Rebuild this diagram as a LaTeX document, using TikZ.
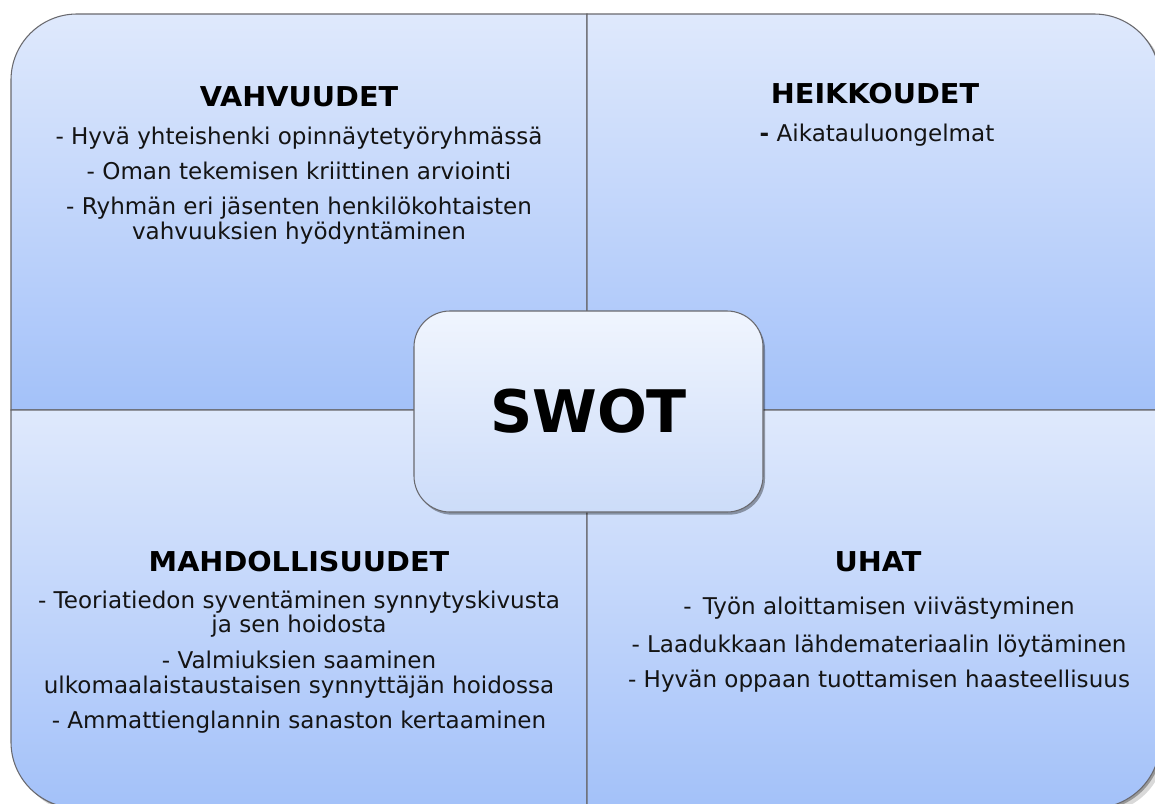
\documentclass[tikz,border=0pt]{standalone}
\usepackage{fontspec}
\setmainfont{DejaVu Sans}
\newfontfamily\headfont{DejaVu Sans}[FakeStretch=1.05]
\usetikzlibrary{shadows}
\definecolor{qtop}{RGB}{223,233,252}
\definecolor{qbot}{RGB}{163,193,249}
\definecolor{ctop}{RGB}{240,245,254}
\definecolor{cbot}{RGB}{204,220,249}
\definecolor{qline}{RGB}{105,105,110}
\definecolor{ink}{RGB}{20,20,20}
\tikzset{
  quad/.style={draw=qline, line width=0.8pt, top color=qtop, bottom color=qbot},
  head/.style={anchor=base, text=black, font=\headfont\bfseries\fontsize{20.5}{24}\selectfont},
  item/.style={anchor=base, text=ink, font=\fontsize{17.3}{20}\selectfont},
  centerbox/.style={draw=qline, line width=0.8pt, rounded corners=27pt,
    top color=ctop, bottom color=cbot, minimum width=261.75pt, minimum height=150.75pt,
    drop shadow={shadow xshift=1.5pt, shadow yshift=-2pt, opacity=0.35, fill=black},
    font=\bfseries\fontsize{44}{50}\selectfont, text=black, inner sep=0pt},
}
\begin{document}
\begin{tikzpicture}[x=0.75pt, y=-0.75pt]
\useasboundingbox (0,0) rectangle (1155,803);
\fill[white] (0,0) rectangle (1155,803);
% outer shadow
\fill[black, opacity=0.15] (82,19) -- (1099,19) .. controls (1135.4,19) and (1165,48.6) .. (1165,85) -- (1165,747) .. controls (1165,783.4) and (1135.4,813) .. (1099,813) -- (82,813) .. controls (45.6,813) and (16,783.4) .. (16,747) -- (16,85) .. controls (16,48.6) and (45.6,19) .. (82,19) -- cycle;
\fill[black, opacity=0.3] (79,16) -- (1096,16) .. controls (1132.4,16) and (1162,45.6) .. (1162,82) -- (1162,744) .. controls (1162,780.4) and (1132.4,810) .. (1096,810) -- (79,810) .. controls (42.6,810) and (13,780.4) .. (13,744) -- (13,82) .. controls (13,45.6) and (42.6,16) .. (79,16) -- cycle;
% quadrants
\path[quad] (587,14) -- (77,14) .. controls (40.6,14) and (11,43.6) .. (11,80) -- (11,410) -- (587,410) -- cycle;
\path[quad] (587,14) -- (1094,14) .. controls (1130.4,14) and (1160,43.6) .. (1160,80) -- (1160,410) -- (587,410) -- cycle;
\path[quad] (587,410) -- (11,410) -- (11,742) .. controls (11,778.4) and (40.6,808) .. (77,808) -- (587,808) -- cycle;
\path[quad] (587,410) -- (1160,410) -- (1160,742) .. controls (1160,778.4) and (1130.4,808) .. (1094,808) -- (587,808) -- cycle;
% centre
\node[centerbox] (swot) at (588.5,411.5) {SWOT};
% strengths
\node[head] (sh) at (299,106) {VAHVUUDET};
\node[item] (s1) at (299,144) {- Hyvä yhteishenki opinnäytetyöryhmässä};
\node[item] (s2) at (299,179) {- Oman tekemisen kriittinen arviointi};
\node[item] (s3) at (299,214) {- Ryhmän eri jäsenten henkilökohtaisten};
\node[item] (s4) at (299,239) {vahvuuksien hyödyntäminen};
% weaknesses
\node[head] (wh) at (875,103) {HEIKKOUDET};
\node[item] (w1) at (877,141) {\textbf{-} Aikatauluongelmat};
% opportunities
\node[head] (oh) at (299,571) {MAHDOLLISUUDET};
\node[item] (o1) at (299,608) {- Teoriatiedon syventäminen synnytyskivusta};
\node[item] (o2) at (299,632) {ja sen hoidosta};
\node[item] (o3) at (299,668) {- Valmiuksien saaminen};
\node[item] (o4) at (299,693) {ulkomaalaistaustaisen synnyttäjän hoidossa};
\node[item] (o5) at (299,728) {- Ammattienglannin sanaston kertaaminen};
% threats
\node[head] (th) at (878,571) {UHAT};
\node[item] (t1) at (879,614) {-\, Työn aloittamisen viivästyminen};
\node[item] (t2) at (879,652) {- Laadukkaan lähdemateriaalin löytäminen};
\node[item] (t3) at (879,687) {- Hyvän oppaan tuottamisen haasteellisuus};
\end{tikzpicture}
\end{document}
